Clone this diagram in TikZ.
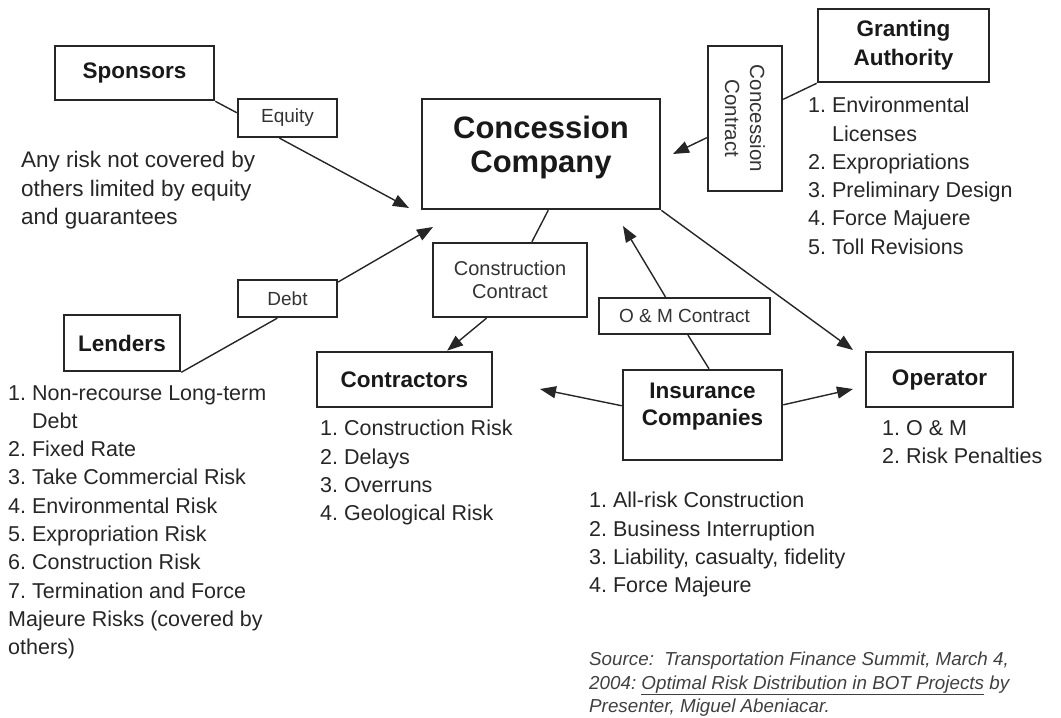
\documentclass[tikz,border=0pt]{standalone}
\usepackage{fontspec}
\setmainfont{Liberation Sans}
\usetikzlibrary{arrows.meta,calc}
\frenchspacing
\begin{document}
\begin{tikzpicture}[x=1pt,y=-1pt,
  box/.style={draw=black!85, line width=2.6pt, inner sep=0pt, align=center, text=black!90},
  lbl/.style={draw=black!85, line width=2.2pt, inner sep=0pt, align=center, text=black!80, font=\fontsize{19}{23}\selectfont},
  hd/.style={font=\bfseries\fontsize{22.5}{29}\selectfont},
  lst/.style={anchor=north west, inner sep=0pt, align=left, text=black!85, font=\fontsize{21.5}{28.3}\selectfont},
  conn/.style={draw=black!85, line width=1.4pt},
  arr/.style={conn, -{Triangle[length=16pt,width=12pt]}},
]
\useasboundingbox (0,0) rectangle (1061,718);

% boxes
\node[box,hd,minimum width=159,minimum height=54] (spon) at (134.5,73) {Sponsors};
\node[lbl,minimum width=99,minimum height=38] (eq) at (287.5,118) {Equity};
\node[box,minimum width=238,minimum height=110] (cc) at (541,154) {};
\node[align=center,inner sep=0pt,text=black!90,font=\bfseries\fontsize{31}{34}\selectfont] (cctext) at ($(cc)+(0,-7)$) {Concession\\Company};
\node[lbl,minimum width=99,minimum height=37] (debt) at (287.5,298.5) {Debt};
\node[box,hd,minimum width=116,minimum height=56] (lend) at (122,343) {Lenders};
\node[lbl,font=\fontsize{20}{23}\selectfont,minimum width=154,minimum height=74] (cstr) at (510,280) {Construction\\Contract};
\node[box,hd,minimum width=175,minimum height=55] (ctr) at (404.5,379.5) {Contractors};
\node[box,hd,minimum width=171,minimum height=73] (ga) at (903.5,45.5) {Granting\\Authority};
\node[lbl,minimum width=74,minimum height=145] (ccon) at (745,118.5) {};
\node[rotate=-90,align=center,inner sep=0pt,text=black!80,font=\fontsize{20.5}{25}\selectfont] (ccontext) at (ccon) {Concession\\Contract};
\node[lbl,minimum width=171,minimum height=36] (om) at (684.5,316) {O \& M Contract};
\node[box,minimum width=159,minimum height=90] (ins) at (702.5,415) {};
\node[align=center,inner sep=0pt,text=black!90,font=\bfseries\fontsize{22.5}{27}\selectfont] (instext) at ($(ins)+(0,-8.5)$) {Insurance\\Companies};
\node[box,hd,minimum width=147,minimum height=55] (op) at (939.5,379.5) {Operator};

% free arrow ends
\coordinate (tipEq) at (409,208);
\coordinate (tipDebt) at (433,227);
\coordinate (tipCon) at (673,154);
\coordinate (tipOp) at (853,350);
\coordinate (tipOM) at (623,226);
\coordinate (tipCtr) at (540,389);
\coordinate (tipOp2) at (853,389);

% connectors
\draw[conn] (spon.south east) -- ($(eq.north west)!0.37!(eq.south west)$);
\draw[arr] ($(eq.south west)!0.42!(eq.south east)$) -- (tipEq);
\draw[arr] ($(debt.north east)!0.08!(debt.south east)$) -- (tipDebt);
\draw[conn] (lend.south east) -- ($(debt.south west)!0.4!(debt.south east)$);
\draw[conn] ($(cc.south west)!0.53!(cc.south east)$) -- ($(cstr.north west)!0.64!(cstr.north east)$);
\draw[arr] ($(cstr.south west)!0.35!(cstr.south east)$) -- ($(ctr.north west)!0.74!(ctr.north east)$);
\draw[conn] (ga.south west) -- ($(ccon.north east)!0.37!(ccon.south east)$);
\draw[arr] ($(ccon.north west)!0.63!(ccon.south west)$) -- (tipCon);
\draw[arr] (cc.south east) -- (tipOp);
\draw[arr] ($(om.north west)!0.39!(om.north east)$) -- (tipOM);
\draw[conn] ($(ins.north west)!0.54!(ins.north east)$) -- ($(om.south west)!0.52!(om.south east)$);
\draw[arr] ($(ins.north west)!0.4!(ins.south west)$) -- (tipCtr);
\draw[arr] ($(ins.north east)!0.39!(ins.south east)$) -- (tipOp2);

% texts
\node[lst,font=\fontsize{22.5}{28.5}\selectfont] (anyrisk) at (21,151) {Any risk not covered by\\others limited by equity\\and guarantees};
\node[lst] (lendlist) at (8,385) {1. Non-recourse Long-term\\\hspace*{24pt}Debt\\2. Fixed Rate\\3. Take Commercial Risk\\4. Environmental Risk\\5. Expropriation Risk\\6. Construction Risk\\7. Termination and Force\\Majeure Risks (covered by\\others)};
\node[lst] (ctrlist) at (320,420) {1. Construction Risk\\2. Delays\\3. Overruns\\4. Geological Risk};
\node[lst] (galist) at (808,97) {1. Environmental\\\hspace*{24pt}Licenses\\2. Expropriations\\3. Preliminary Design\\4. Force Majuere\\5. Toll Revisions};
\node[lst] (oplist) at (882,420) {1. O \& M\\2. Risk Penalties};
\node[lst] (inslist) at (589,492) {1. All-risk Construction\\2. Business Interruption\\3. Liability, casualty, fidelity\\4. Force Majeure};
\node[lst,text=black!75,font=\itshape\fontsize{18.8}{23.5}\selectfont] (source) at (589,652) {Source:\ \ Transportation Finance Summit, March 4,\\2004: \underline{Optimal Risk Distribution in BOT Projects} by\\Presenter, Miguel Abeniacar.};
\end{tikzpicture}
\end{document}
